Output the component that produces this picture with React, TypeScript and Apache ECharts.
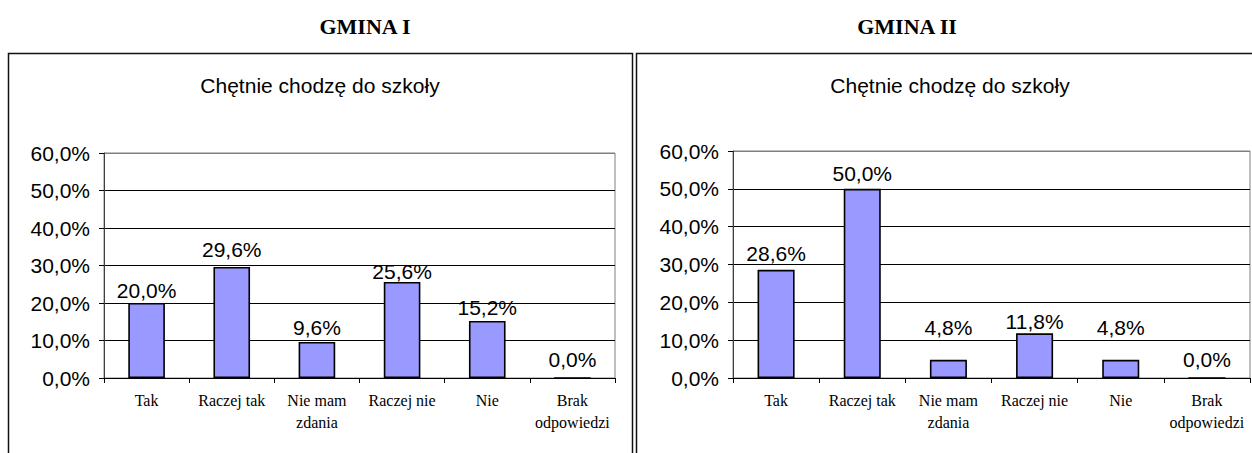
import React, { useEffect, useRef } from 'react';
import * as echarts from 'echarts';

const categories = ['Tak', 'Raczej tak', 'Nie mam\nzdania', 'Raczej nie', 'Nie', 'Brak\nodpowiedzi'];
const gmina1Values = [20.0, 29.6, 9.6, 25.6, 15.2, 0.0];
const gmina2Values = [28.6, 50.0, 4.8, 11.8, 4.8, 0.0];
const panelTitles = ['GMINA I', 'GMINA II'];
const chartTitle = 'Chętnie chodzę do szkoły';
const yMin = 0;
const yMax = 60;
const yStep = 10;

// label gap above bar (style only)
const labelGap1 = [2, 7, 4, 0, 3, 7];
const labelGap2 = [6, 5, 22, 1, 22, 7];

const fmt = (v: number) => v.toFixed(1).replace('.', ',') + '%';

const SANS = '"Liberation Sans", Arial, sans-serif';
const SERIF = '"Liberation Serif", "Times New Roman", serif';

function makeAxes(gridIndex: number) {
  return {
    x: {
      type: 'category',
      gridIndex,
      data: categories,
      boundaryGap: true,
      axisLine: { show: true, lineStyle: { color: '#000', width: 1 } },
      axisTick: { show: true, length: 5, inside: false, interval: 0, lineStyle: { color: '#000' } },
      axisLabel: {
        interval: 0,
        fontFamily: SERIF,
        fontSize: 16,
        lineHeight: 22,
        margin: 11,
        color: '#000',
      },
      splitLine: { show: false },
    },
    y: {
      type: 'value',
      gridIndex,
      min: yMin,
      max: yMax,
      interval: yStep,
      axisLine: { show: true, lineStyle: { color: '#404040', width: 1 } },
      axisTick: { show: true, length: 5, lineStyle: { color: '#000' } },
      axisLabel: {
        formatter: (v: number) => fmt(v),
        fontFamily: SANS,
        fontSize: 21,
        margin: 14,
        color: '#000',
      },
      splitLine: {
        show: true,
        lineStyle: { color: ['#000', '#000', '#000', '#000', '#000', '#000', '#808080'], width: 1 },
      },
    },
  };
}

function makeSeries(values: number[], gaps: number[], idx: number) {
  return {
    type: 'bar',
    xAxisIndex: idx,
    yAxisIndex: idx,
    barWidth: '43%',
    data: values.map((v, i) => ({ value: v, label: { distance: gaps[i] } })),
    itemStyle: { color: '#9999FF', borderColor: '#000', borderWidth: 1.6 },
    label: {
      show: true,
      position: 'top',
      formatter: (p: any) => fmt(p.value),
      fontFamily: SANS,
      fontSize: 21,
      color: '#000',
    },
  };
}

export default function App() {
  const ref = useRef<HTMLDivElement>(null);
  useEffect(() => {
    if (!ref.current) return;
    const chart = echarts.init(ref.current, undefined, { renderer: 'svg' });
    const a1 = makeAxes(0);
    const a2 = makeAxes(1);
    chart.setOption({
      animation: false,
      backgroundColor: '#fff',
      grid: [
        { left: 104, top: 153, width: 511, height: 225, show: true, borderColor: '#808080', borderWidth: 1, backgroundColor: 'transparent', containLabel: false },
        { left: 733, top: 151, width: 517, height: 227, show: true, borderColor: '#808080', borderWidth: 1, backgroundColor: 'transparent', containLabel: false },
      ],
      xAxis: [a1.x, a2.x],
      yAxis: [a1.y, a2.y],
      series: [makeSeries(gmina1Values, labelGap1, 0), makeSeries(gmina2Values, labelGap2, 1)],
      graphic: [
        { type: 'rect', shape: { x: 8.5, y: 53.5, width: 624, height: 420 }, style: { fill: 'none', stroke: '#111', lineWidth: 1.5 }, silent: true },
        { type: 'rect', shape: { x: 636.5, y: 53.5, width: 640, height: 420 }, style: { fill: 'none', stroke: '#111', lineWidth: 1.5 }, silent: true },
        { type: 'text', x: 365, y: 26, style: { text: panelTitles[0], fontFamily: SERIF, fontWeight: 'bold', fontSize: 22, fill: '#000', align: 'center', verticalAlign: 'middle' } },
        { type: 'text', x: 907, y: 26, style: { text: panelTitles[1], fontFamily: SERIF, fontWeight: 'bold', fontSize: 22, fill: '#000', align: 'center', verticalAlign: 'middle' } },
        { type: 'text', x: 320, y: 85, style: { text: chartTitle, fontFamily: SANS, fontSize: 21, fill: '#000', align: 'center', verticalAlign: 'middle' } },
        { type: 'text', x: 950, y: 85, style: { text: chartTitle, fontFamily: SANS, fontSize: 21, fill: '#000', align: 'center', verticalAlign: 'middle' } },
      ],
    });
    return () => chart.dispose();
  }, []);
  return (
    <div
      ref={ref}
      style={{ position: 'fixed', left: 0, top: 0, width: 1252, height: 453, background: '#fff' }}
    />
  );
}
